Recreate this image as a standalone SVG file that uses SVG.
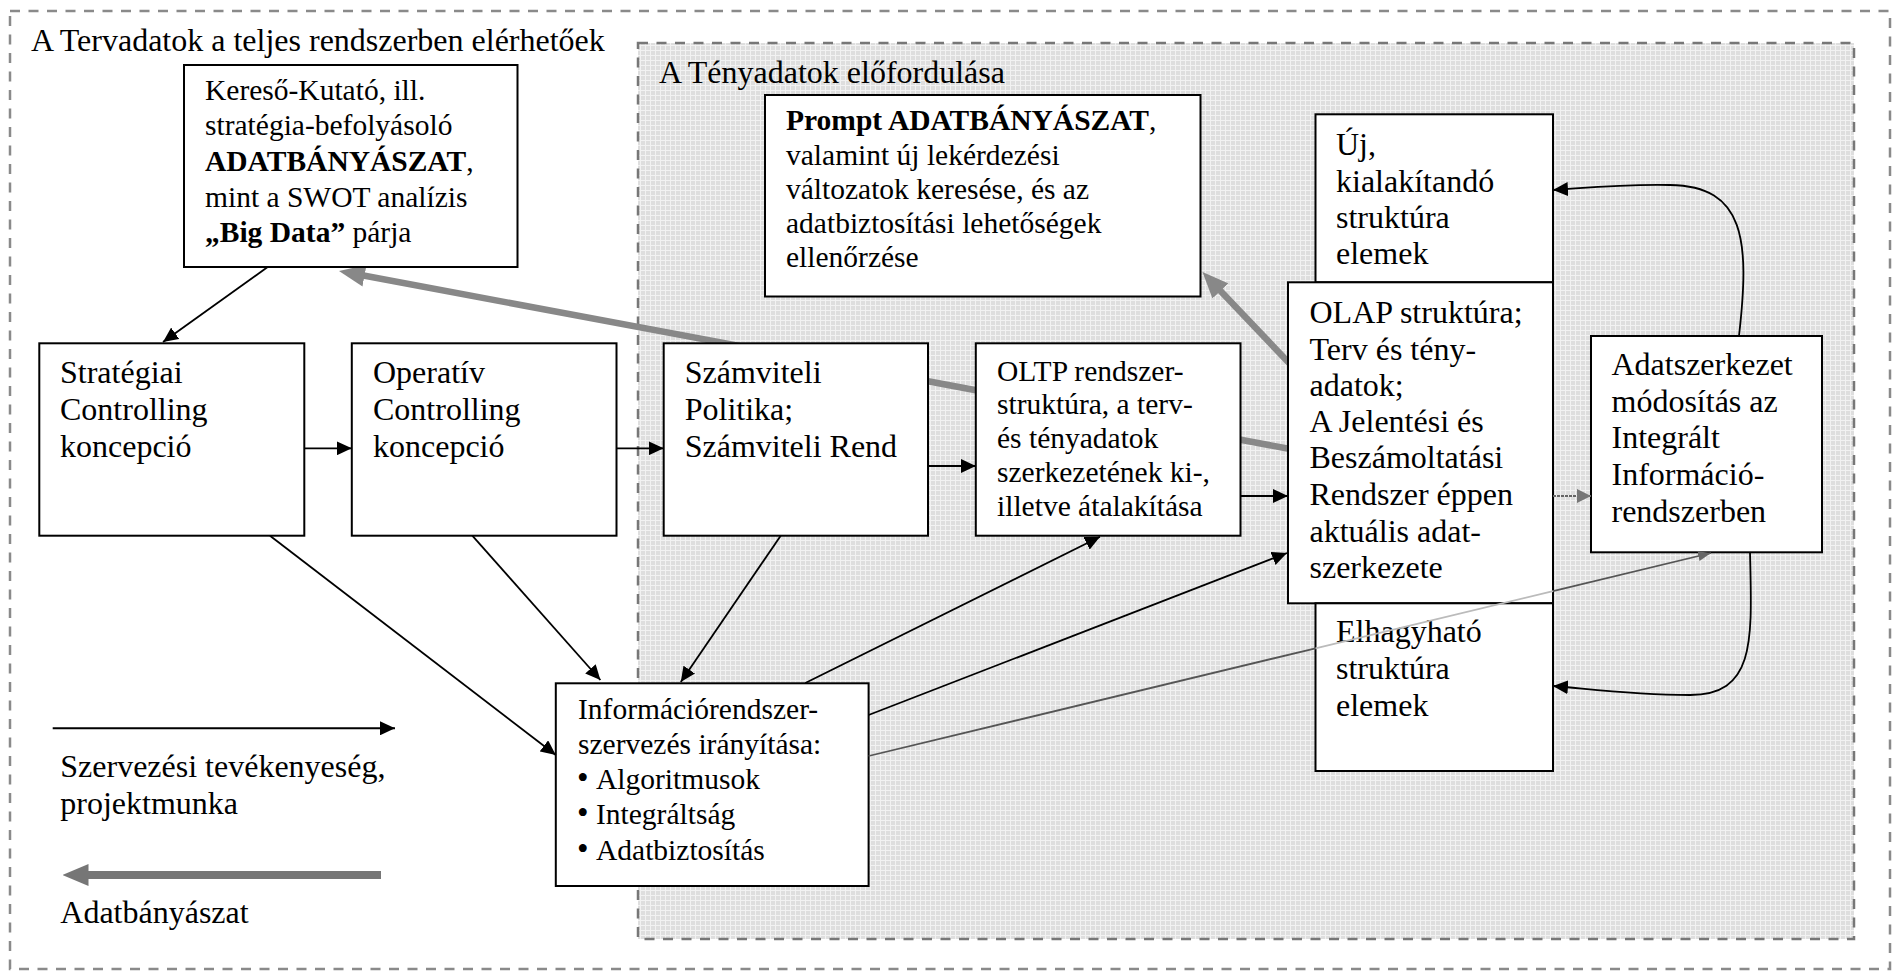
<svg xmlns="http://www.w3.org/2000/svg" width="1892" height="971" viewBox="0 0 1892 971">
<style>
  .t{font-family:"Liberation Serif","Times New Roman",serif;font-size:32px;fill:#000}
  .s{font-size:29.5px}
  .b{font-weight:bold}
  .bul{font-size:33px}
  .box{fill:#fff;stroke:#000;stroke-width:2}
  .ln{fill:none;stroke:#000;stroke-width:1.8;marker-end:url(#ah)}
  .dm{fill:none;stroke:#888;stroke-width:6.5;marker-end:url(#ahm)}
  .frame{fill:none;stroke:#8a8a8a;stroke-width:2.5;stroke-dasharray:10 8.5}
</style>
<defs>
  <pattern id="grid" width="5" height="5" patternUnits="userSpaceOnUse">
    <rect width="5" height="5" fill="#dedede"/>
    <rect width="1" height="5" fill="#f2f2f2"/>
    <rect width="5" height="1" fill="#f2f2f2"/>
  </pattern>
  <marker id="ah" markerUnits="userSpaceOnUse" markerWidth="15" markerHeight="14" refX="15" refY="7" orient="auto">
    <path d="M0,0 L15,7 L0,14 z" fill="#000"/>
  </marker>
  <marker id="ahm" markerUnits="userSpaceOnUse" markerWidth="26" markerHeight="22" refX="16" refY="11" orient="auto">
    <path d="M0,0 L26,11 L0,22 z" fill="#888"/>
  </marker>
  <marker id="ahl" markerUnits="userSpaceOnUse" markerWidth="26" markerHeight="22" refX="16" refY="11" orient="auto">
    <path d="M0,0 L26,11 L0,22 z" fill="#767676"/>
  </marker>
  <marker id="ahg" markerUnits="userSpaceOnUse" markerWidth="13" markerHeight="10" refX="13" refY="5" orient="auto">
    <path d="M0,0 L13,5 L0,10 z" fill="#666"/>
  </marker>
  <marker id="ahd" markerUnits="userSpaceOnUse" markerWidth="14" markerHeight="14" refX="14" refY="7" orient="auto">
    <path d="M0,0 L14,7 L0,14 z" fill="#777"/>
  </marker>
</defs>

<rect width="1892" height="971" fill="#fff"/>

<!-- plan data area -->
<g id="frame-plan">
  <rect class="frame" x="10" y="11" width="1880" height="958"/>
  <text class="t" x="31" y="51">A Tervadatok a teljes rendszerben elérhetőek</text>
</g>

<!-- fact data area -->
<g id="frame-fact">
  <rect x="638" y="43" width="1216" height="896" fill="url(#grid)" stroke="#777" stroke-width="2.5" stroke-dasharray="10 8.5"/>
  <text class="t" x="659" y="83">A Tényadatok előfordulása</text>
</g>

<!-- data mining flows (drawn beneath the boxes) -->
<g id="connectors-mining">
  <path class="dm" d="M1290,449 L348.8,272.8"/>
  <path class="dm" d="M1290,364 L1209.4,279.3" stroke-width="5.5"/>
</g>

<g id="node-kereso">
  <rect class="box" x="184" y="65" width="333.5" height="202"/>
  <text class="t s" x="205" y="99.5">Kereső-Kutató, ill.</text>
  <text class="t s" x="205" y="135">stratégia-befolyásoló</text>
  <text class="t s" x="205" y="171"><tspan class="b">ADATBÁNYÁSZAT</tspan>,</text>
  <text class="t s" x="205" y="206.5">mint a SWOT analízis</text>
  <text class="t s" x="205" y="242"><tspan class="b">„Big Data”</tspan> párja</text>
</g>

<g id="node-prompt">
  <rect class="box" x="765" y="95" width="435.5" height="201.5"/>
  <text class="t s" x="786" y="130"><tspan class="b">Prompt ADATBÁNYÁSZAT</tspan>,</text>
  <text class="t s" x="786" y="165">valamint új lekérdezési</text>
  <text class="t s" x="786" y="199">változatok keresése, és az</text>
  <text class="t s" x="786" y="233">adatbiztosítási lehetőségek</text>
  <text class="t s" x="786" y="267">ellenőrzése</text>
</g>

<g id="node-uj">
  <rect class="box" x="1315.5" y="114.3" width="237.5" height="168"/>
  <text class="t" x="1336" y="155">Új,</text>
  <text class="t" x="1336" y="191.5">kialakítandó</text>
  <text class="t" x="1336" y="227.5">struktúra</text>
  <text class="t" x="1336" y="264">elemek</text>
</g>

<g id="node-strategiai">
  <rect class="box" x="39.3" y="343.3" width="265" height="192.4"/>
  <text class="t" x="60" y="382.7">Stratégiai</text>
  <text class="t" x="60" y="420">Controlling</text>
  <text class="t" x="60" y="457.3">koncepció</text>
</g>

<g id="node-operativ">
  <rect class="box" x="351.8" y="343.3" width="264.7" height="192.4"/>
  <text class="t" x="373" y="382.7">Operatív</text>
  <text class="t" x="373" y="420">Controlling</text>
  <text class="t" x="373" y="457.3">koncepció</text>
</g>

<g id="node-szamviteli">
  <rect class="box" x="663.7" y="343.3" width="264.3" height="192.4"/>
  <text class="t" x="684.7" y="382.7">Számviteli</text>
  <text class="t" x="684.7" y="420">Politika;</text>
  <text class="t" x="684.7" y="457.3">Számviteli Rend</text>
</g>

<g id="node-oltp">
  <rect class="box" x="975.8" y="343.3" width="264.7" height="192.4"/>
  <text class="t s" x="997" y="380.7">OLTP rendszer-</text>
  <text class="t s" x="997" y="414">struktúra, a terv-</text>
  <text class="t s" x="997" y="448">és tényadatok</text>
  <text class="t s" x="997" y="482">szerkezetének ki-,</text>
  <text class="t s" x="997" y="516">illetve átalakítása</text>
</g>

<g id="node-olap">
  <rect class="box" x="1288" y="282.3" width="265" height="321"/>
  <text class="t" x="1309.5" y="323">OLAP struktúra;</text>
  <text class="t" x="1309.5" y="359.5">Terv és tény-</text>
  <text class="t" x="1309.5" y="395.5">adatok;</text>
  <text class="t" x="1309.5" y="432">A Jelentési és</text>
  <text class="t" x="1309.5" y="468">Beszámoltatási</text>
  <text class="t" x="1309.5" y="505">Rendszer éppen</text>
  <text class="t" x="1309.5" y="541.5">aktuális adat-</text>
  <text class="t" x="1309.5" y="578">szerkezete</text>
</g>

<g id="node-adatszerkezet">
  <rect class="box" x="1591" y="336" width="231" height="216.3"/>
  <text class="t" x="1611.5" y="375">Adatszerkezet</text>
  <text class="t" x="1611.5" y="411.7">módosítás az</text>
  <text class="t" x="1611.5" y="448.3">Integrált</text>
  <text class="t" x="1611.5" y="485">Információ-</text>
  <text class="t" x="1611.5" y="521.7">rendszerben</text>
</g>

<g id="node-elhagyhato">
  <rect class="box" x="1315.5" y="603.3" width="237.5" height="167.7"/>
  <text class="t" x="1336" y="641.5">Elhagyható</text>
  <text class="t" x="1336" y="678.5">struktúra</text>
  <text class="t" x="1336" y="715.5">elemek</text>
</g>

<g id="node-informacio">
  <rect class="box" x="555.8" y="683.3" width="312.8" height="202.7"/>
  <text class="t s" x="578" y="719">Információrendszer-</text>
  <text class="t s" x="578" y="754">szervezés irányítása:</text>
  <text class="t s" x="577" y="789"><tspan class="bul">•</tspan><tspan x="596">Algoritmusok</tspan></text>
  <text class="t s" x="577" y="824"><tspan class="bul">•</tspan><tspan x="596">Integráltság</tspan></text>
  <text class="t s" x="577" y="860"><tspan class="bul">•</tspan><tspan x="596">Adatbiztosítás</tspan></text>
</g>

<!-- organising activity flows -->
<g id="connectors">
  <path class="ln" d="M267.3,267.3 L163,342"/>
  <path class="ln" d="M304.4,448.3 L351.8,448.3"/>
  <path class="ln" d="M616.5,448.3 L663.7,448.3"/>
  <path class="ln" d="M928,466 L975.8,466"/>
  <path class="ln" d="M1240.5,496 L1288,496"/>
  <path class="ln" d="M270,535.7 L555.8,755"/>
  <path class="ln" d="M472.3,535.7 L600.4,680"/>
  <path class="ln" d="M780.7,535.7 L680.8,682"/>
  <path class="ln" d="M805.3,683 L1100,536.7"/>
  <path class="ln" d="M868.6,715 L1287,553"/>
  <path class="ln" d="M1739,336 C1750,240 1745,186 1670,185 C1620,184 1585,188 1553,190"/>
  <path class="ln" d="M1750,552 C1752,640 1756,695 1690,695 C1630,695 1590,689 1553,686"/>
  <path d="M1553,496 L1591,496" fill="none" stroke="#666" stroke-width="2" stroke-dasharray="3 1" marker-end="url(#ahd)"/>
  <g fill="none" stroke-width="1.8">
    <path d="M868.6,756 L1315.5,648.3" stroke="#555"/>
    <path d="M1315.5,648.3 L1553,591.1" stroke="#bbb"/>
    <path d="M1553,591.1 L1711,553" stroke="#555" marker-end="url(#ahg)"/>
  </g>
</g>

<g id="legend">
  <path d="M52.7,728.3 L395,728.3" fill="none" stroke="#000" stroke-width="2" marker-end="url(#ah)"/>
  <text class="t" x="60.3" y="777">Szervezési tevékenyeség,</text>
  <text class="t" x="60.3" y="814">projektmunka</text>
  <path d="M381,875 L72.5,875" fill="none" stroke="#767676" stroke-width="8" marker-end="url(#ahl)"/>
  <text class="t" x="60.3" y="922.7">Adatbányászat</text>
</g>
</svg>
